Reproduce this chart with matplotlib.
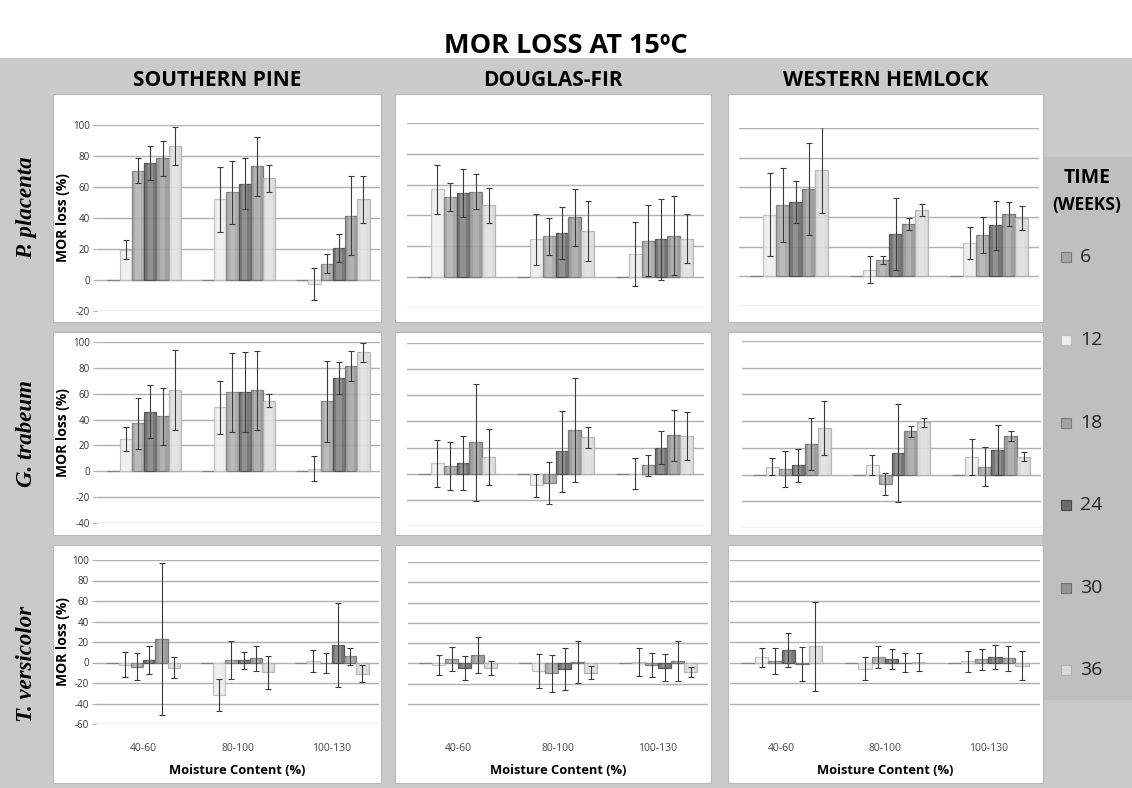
import matplotlib
matplotlib.use("Agg")
import matplotlib.pyplot as plt
from matplotlib.patches import Rectangle
import numpy as np

plt.rcParams['font.family'] = ['Open Sans', 'DejaVu Sans']
plt.rcParams['axes.unicode_minus'] = False

W, H = 1132, 788

weeks = ['6', '12', '18', '24', '30', '36']
moisture = ['40-60', '80-100', '100-130']
woods = ['SOUTHERN PINE', 'DOUGLAS-FIR', 'WESTERN HEMLOCK']
fungi = ['P. placenta', 'G. trabeum', 'T. versicolor']

# mean MOR loss (%): one row per moisture class, one column per week
pp_pine = [[0, 19.5, 70.5, 75.5, 78.5, 86.5], [0, 52, 56.5, 62, 73.5, 65.5], [0, -2.5, 10.5, 20.5, 41.5, 52]]
pp_pine_err = [[0, 6, 8, 11, 11.5, 12], [0, 21, 20.5, 16.5, 19, 8.5], [0, 10.5, 6, 9, 25.5, 15]]
pp_fir = [[0, 57, 52, 54.5, 55.5, 46.5], [0, 24.5, 26.5, 28.5, 39, 30], [0, 15, 23.5, 24.5, 27, 25]]
pp_fir_err = [[0, 16, 9, 15.5, 11.5, 11.5], [0, 16.5, 12, 17, 18.5, 19.5], [0, 21, 23, 26.5, 25.5, 16]]
pp_hemlock = [[0, 41.5, 48, 50, 59, 72], [0, 4.5, 11, 28.5, 35.5, 44.5], [0, 22.5, 28, 34.5, 42, 39.5]]
pp_hemlock_err = [[0, 28, 25, 14, 31, 29.5], [0, 9, 2.5, 24, 4, 4], [0, 10.5, 12, 16.5, 8, 8]]

gt_pine = [[0, 25, 37, 46, 42.5, 63], [0, 49.5, 61, 61, 62.5, 54.5], [0, 2, 54, 72, 81.5, 92]]
gt_pine_err = [[0, 9.5, 20, 20.5, 22, 31], [0, 20.5, 30.5, 31, 30.5, 5], [0, 9.5, 31.5, 12.5, 11.5, 7.5]]
gt_fir = [[0, 8, 6, 8, 24, 12.5], [0, -9, -7, 17, 33.5, 28], [0, 0, 6.5, 20, 29.5, 29]]
gt_fir_err = [[0, 18, 18.5, 20.5, 45, 21.5], [0, 8.5, 16, 31, 39.5, 8], [0, 12, 8, 12.5, 19.5, 18.5]]
gt_hemlock = [[0, 6, 4.5, 7, 23, 35], [0, 7, -7, 16, 32.5, 39], [0, 13.5, 6, 18.5, 29, 13.5]]
gt_hemlock_err = [[0, 6.5, 13.5, 12.5, 19.5, 20], [0, 7.5, 8, 36.5, 4, 3.5], [0, 13.5, 14.5, 18.5, 3.5, 3.5]]

tv_pine = [[0, -2, -4, 2.5, 23, -5], [0, -32, 2.5, 2, 4, -9.5], [0, 1.5, -0.5, 17, 6, -11]]
tv_pine_err = [[0, 12.5, 13, 13.5, 74.5, 10.5], [0, 15.5, 18.5, 8, 12.5, 16], [0, 10.5, 10, 41, 8.5, 8.5]]
tv_fir = [[0, -1.5, 4, -4.5, 8, -5], [0, -7.5, -10, -5.5, 1, -9.5], [0, 1, -1.5, -4.5, 2, -9]]
tv_fir_err = [[0, 10, 12, 12, 17.5, 7], [0, 16.5, 18, 20.5, 20.5, 6.5], [0, 14, 12, 13.5, 19.5, 5]]
tv_hemlock = [[0, 5, 1.5, 12.5, -1.5, 16], [0, -6, 5.5, 3.5, 0, 0.5], [0, 1, 3, 5.5, 4, -3]]
tv_hemlock_err = [[0, 9, 13, 16.5, 16.5, 43.5], [0, 11, 10.5, 9.5, 9.5, 9], [0, 10.5, 10.5, 12, 12, 14.5]]

means = [[pp_pine, pp_fir, pp_hemlock], [gt_pine, gt_fir, gt_hemlock], [tv_pine, tv_fir, tv_hemlock]]
errs = [[pp_pine_err, pp_fir_err, pp_hemlock_err], [gt_pine_err, gt_fir_err, gt_hemlock_err],
        [tv_pine_err, tv_fir_err, tv_hemlock_err]]

fills = ['#a6a6a6', '#ececec', '#a3a3a3', '#6b6b6b', '#959595', '#dadada']
edges = ['#7a7a7a', '#bdbdbd', '#7d7d7d', '#4a4a4a', '#707070', '#b0b0b0']

# layout in pixels (left, top, right, bottom)
panels_x = [(53, 381), (395, 711), (728, 1043)]
panels_y = [(94, 322), (332, 535), (545, 783)]
axes_px = [
    [(97, 125, 380, 311), (407, 123, 704, 308), (739, 128, 1039, 306)],
    [(97, 342, 380, 523), (407, 343, 704, 526), (742, 341, 1041, 528)],
    [(96, 560, 379, 724), (408, 562, 708, 724), (730, 560, 1040, 724)],
]
ylims = [(-20, 100), (-40, 100), (-60, 100)]


def fx(x):
    return x / W


def fy(y):
    return 1 - y / H


fig = plt.figure(figsize=(W / 100, H / 100), dpi=100)
fig.patch.set_facecolor('white')

fig.patches.append(Rectangle((0, 0), 1, fy(58), transform=fig.transFigure,
                             facecolor='#cacaca', edgecolor='none', zorder=-3))
fig.patches.append(Rectangle((fx(1042), fy(700)), fx(1132 - 1042), (700 - 157) / H,
                             transform=fig.transFigure, facecolor='#bfbfbf',
                             edgecolor='none', zorder=-2))
for (y0, y1) in panels_y:
    for (x0, x1) in panels_x:
        fig.patches.append(Rectangle((fx(x0), fy(y1)), fx(x1 - x0), (y1 - y0) / H,
                                     transform=fig.transFigure, facecolor='white',
                                     edgecolor='#b8b8b8', lw=0.8, zorder=-1))

fig.text(0.5, fy(46), 'MOR LOSS AT 15ºC', ha='center', va='center',
         fontsize=19.5, fontweight='bold')
for (x0, x1), name in zip(panels_x, woods):
    fig.text(fx((x0 + x1) / 2), fy(80), name, ha='center', va='center',
             fontsize=15, fontweight='bold')
for (y0, y1), name in zip(panels_y, fungi):
    fig.text(fx(27), fy((y0 + y1) / 2), name, ha='center', va='center', rotation=90,
             fontsize=16.5, fontweight='bold', fontstyle='italic', family='Liberation Serif')

x = np.arange(len(moisture))
bw = 0.13
for r in range(3):
    for c in range(3):
        l, t, rr, b = axes_px[r][c]
        ax = fig.add_axes([fx(l), fy(b), fx(rr - l), (b - t) / H])
        ax.patch.set_alpha(0)
        for s in ax.spines.values():
            s.set_visible(False)
        m = np.array(means[r][c], dtype=float)
        e = np.array(errs[r][c], dtype=float)
        for i in range(len(weeks)):
            pos = x + (i - 2.5) * bw
            ax.bar(pos, m[:, i], bw, color=fills[i], edgecolor=edges[i], lw=0.9,
                   alpha=0.9, zorder=2)
            # soft highlight down the middle, like the glossy bars in the original
            ax.bar(pos, m[:, i], bw * 0.45, color='white', alpha=0.18, lw=0, zorder=2.5)
            keep = e[:, i] > 0
            if keep.any():
                ax.errorbar(pos[keep], m[keep, i], yerr=e[keep, i], fmt='none',
                            ecolor='#3a3a3a', elinewidth=0.8, capsize=2, capthick=0.8,
                            zorder=3)
        ax.set_xlim(-0.5, 2.5)
        ax.set_ylim(*ylims[r])
        lo = ylims[r][0] if (c == 0 or r < 2) else -40
        ax.set_yticks(np.arange(lo, 101, 20))
        ax.yaxis.grid(True, color='#b0b0b0', lw=1)
        ax.set_axisbelow(True)
        if c == 0:
            ax.tick_params(axis='y', labelsize=7, length=3, color='#b0b0b0',
                           labelcolor='#333333', pad=2)
            fig.text(fx(63), fy((t + b) / 2), 'MOR loss (%)', rotation=90, ha='center',
                     va='center', fontsize=10, fontweight='bold')
        else:
            ax.tick_params(axis='y', labelleft=False, length=0)
        if r == 2:
            ax.set_xticks(x, moisture)
            ax.tick_params(axis='x', labelsize=7.5, length=0, labelcolor='#444444', pad=14)
            fig.text(fx((l + rr) / 2), fy(771), 'Moisture Content (%)', ha='center',
                     va='center', fontsize=9.3, fontweight='bold')
        else:
            ax.set_xticks([])

fig.text(fx(1087), fy(178), 'TIME', ha='center', va='center', fontsize=14, fontweight='bold')
fig.text(fx(1087), fy(205), '(WEEKS)', ha='center', va='center', fontsize=12.5, fontweight='bold')
leg_y = [257, 340, 423, 505, 588, 670]
for yy, lab, fc, ec in zip(leg_y, weeks, fills, edges):
    fig.patches.append(Rectangle((fx(1061), fy(yy + 5)), fx(10), 10 / H, transform=fig.transFigure,
                                 facecolor=fc, edgecolor=ec, lw=0.8, zorder=2))
    fig.text(fx(1080), fy(yy), lab, ha='left', va='center', fontsize=14, color='#222222')

fig.savefig('out.png', dpi=100)
